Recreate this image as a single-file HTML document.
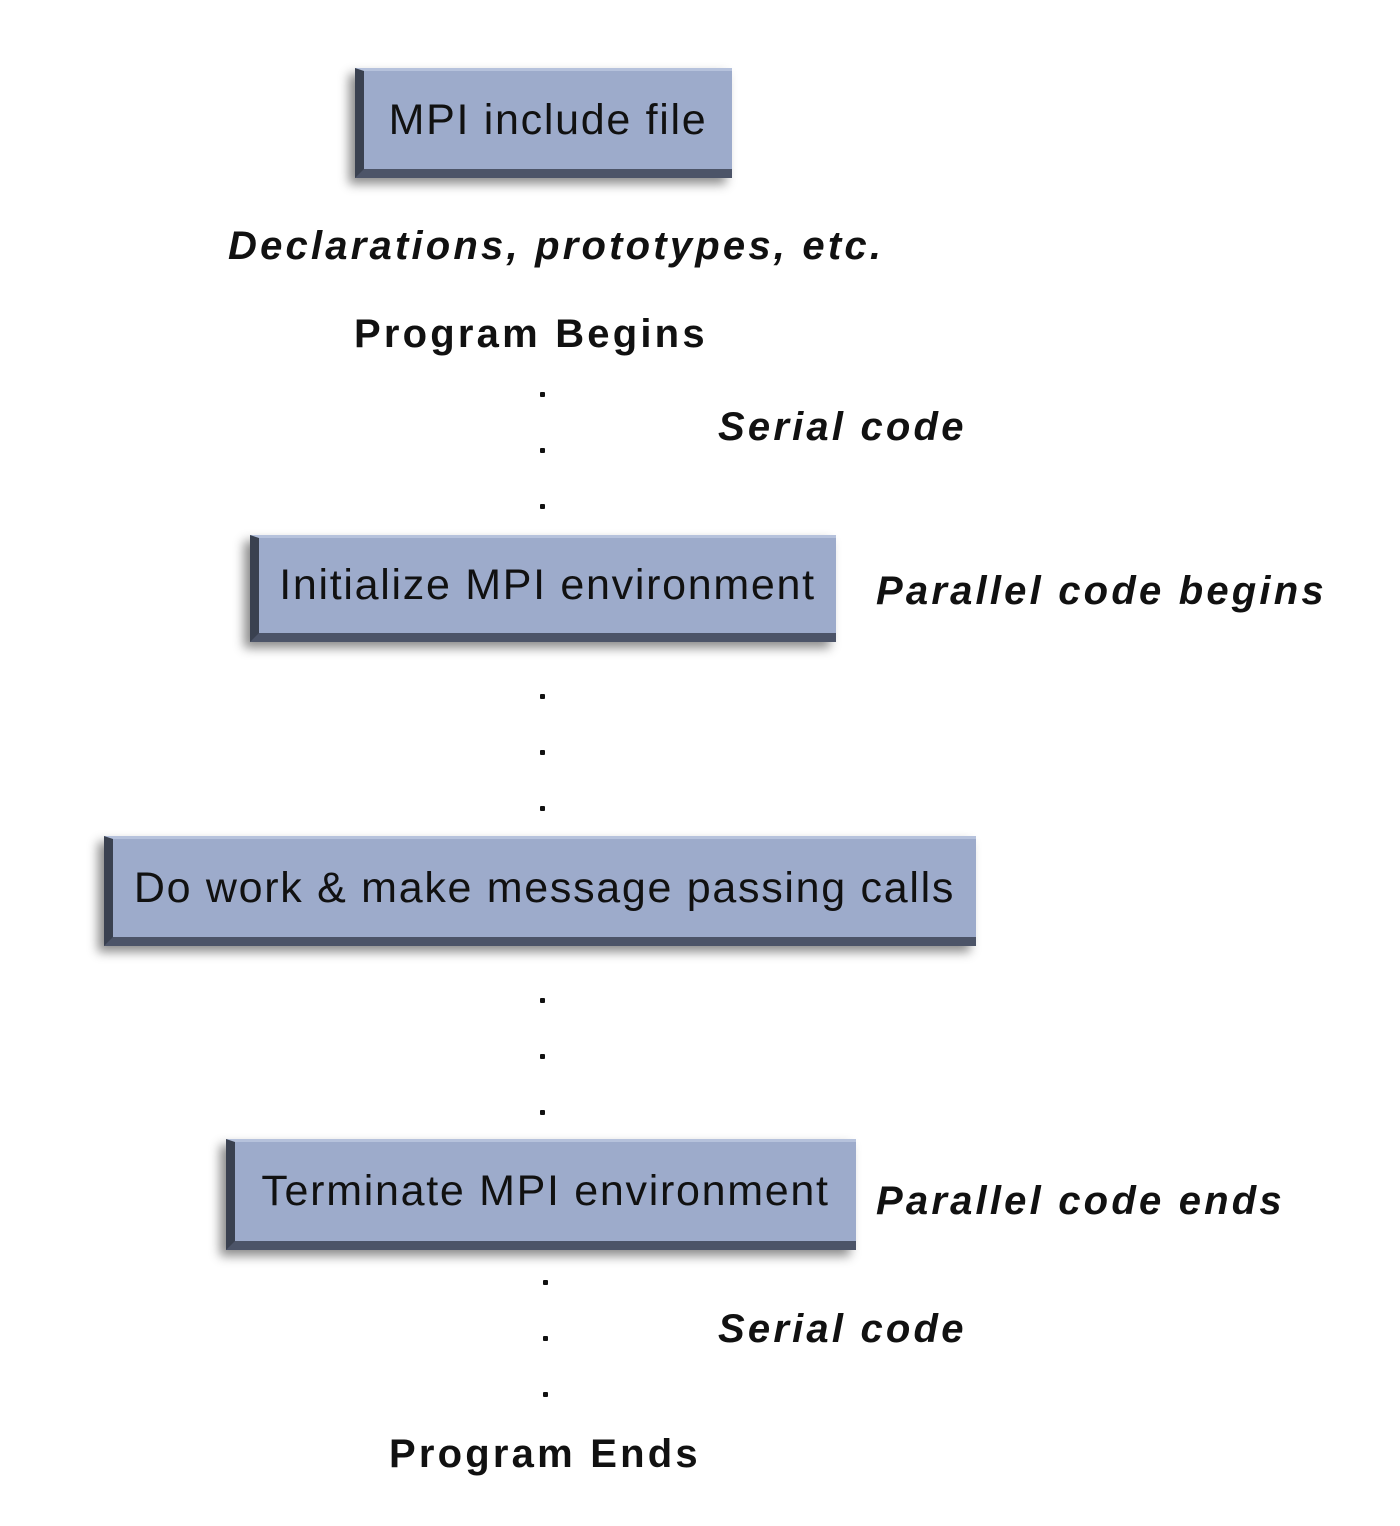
<!DOCTYPE html>
<html><head><meta charset="utf-8"><style>
body{margin:0;width:1400px;height:1526px;background:#fff;position:relative;overflow:hidden;font-family:"Liberation Sans",Arial,sans-serif}
.b{position:absolute;background:#9dabcb;box-sizing:border-box;border-left:9px solid #3a4150;border-bottom:9px solid #4c5468;border-top:3px solid #b6c2dc;box-shadow:-6px 6px 10px rgba(0,0,0,0.45);color:#111;font-size:43px;letter-spacing:1.7px;display:flex;align-items:center;justify-content:center;white-space:nowrap}
.t{position:absolute;font-weight:bold;font-size:40px;letter-spacing:3.2px;color:#111;white-space:nowrap}
.i{font-style:italic}
.d{position:absolute;width:5px;height:5px;background:#111;border-radius:1px}
</style></head><body>
<div class="b" style="left:355px;top:68px;width:377px;height:110px">MPI include file</div>
<div class="b" style="left:250px;top:535px;width:586px;height:107px">Initialize MPI environment</div>
<div class="b" style="left:104px;top:836px;width:872px;height:110px">Do work &amp; make message passing calls</div>
<div class="b" style="left:226px;top:1139px;width:630px;height:111px">Terminate MPI environment</div>
<div class="t i" style="left:228px;top:224px">Declarations, prototypes, etc.</div>
<div class="t" style="left:354px;top:312px">Program Begins</div>
<div class="t i" style="left:718px;top:405px">Serial code</div>
<div class="t i" style="left:876px;top:569px">Parallel code begins</div>
<div class="t i" style="left:876px;top:1179px">Parallel code ends</div>
<div class="t i" style="left:718px;top:1307px">Serial code</div>
<div class="t" style="left:389px;top:1432px">Program Ends</div>
<div class="d" style="left:540px;top:392px"></div>
<div class="d" style="left:540px;top:448px"></div>
<div class="d" style="left:540px;top:504px"></div>
<div class="d" style="left:540px;top:694px"></div>
<div class="d" style="left:540px;top:750px"></div>
<div class="d" style="left:540px;top:806px"></div>
<div class="d" style="left:540px;top:998px"></div>
<div class="d" style="left:540px;top:1054px"></div>
<div class="d" style="left:540px;top:1110px"></div>
<div class="d" style="left:543px;top:1280px"></div>
<div class="d" style="left:543px;top:1336px"></div>
<div class="d" style="left:543px;top:1392px"></div>
</body></html>
